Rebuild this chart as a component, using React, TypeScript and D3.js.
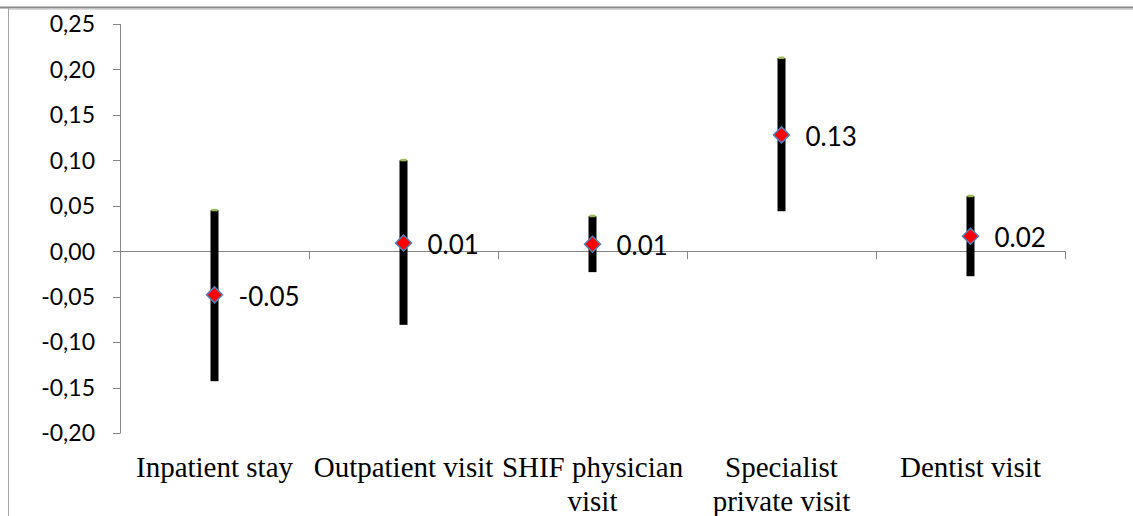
import React from "react";
import * as d3 from "d3";

const categories = [
  "Inpatient stay",
  "Outpatient visit",
  "SHIF physician visit",
  "Specialist private visit",
  "Dentist visit",
];
const highValues = [0.045, 0.1, 0.0385, 0.2125, 0.0605];
const lowValues = [-0.143, -0.081, -0.023, 0.044, -0.0275];
const pointValues = [-0.048, 0.009, 0.0077, 0.128, 0.0165];
const pointLabels = ["-0.05", "0.01", "0.01", "0.13", "0.02"];
const yTicks = [-0.2, -0.15, -0.1, -0.05, 0, 0.05, 0.1, 0.15, 0.2, 0.25];

const W = 1133;
const H = 516;

function wrapLabel(text: string, maxWidth: number, fontSize: number): string[] {
  // approximate Times widths
  const canvas = document.createElement("canvas");
  const ctx = canvas.getContext("2d")!;
  ctx.font = `${fontSize}px "Liberation Serif", "Times New Roman", serif`;
  const words = text.split(" ");
  const lines: string[] = [];
  let cur = "";
  for (const w of words) {
    const test = cur ? cur + " " + w : w;
    if (ctx.measureText(test).width > maxWidth && cur) {
      lines.push(cur);
      cur = w;
    } else {
      cur = test;
    }
  }
  if (cur) lines.push(cur);
  return lines;
}

export default function App() {
  const x = d3.scaleBand<string>().domain(categories).range([120, 1065]).padding(0);
  const y = d3.scaleLinear().domain([-0.2, 0.25]).range([433, 24]);
  const axisColor = "#868686";
  const fmt = (v: number) => d3.format(".2f")(v).replace(".", ",").replace("−", "-");
  const bw = x.bandwidth();
  const boundaries = [...categories.map((c) => x(c)!), 1065];

  return (
    <svg
      width={W}
      height={H}
      style={{ position: "absolute", left: 0, top: 0, background: "#fff" }}
    >
      <rect x={0} y={0} width={W} height={H} fill="#fff" />
      {/* outer frame */}
      <line x1={0} x2={W} y1={7.5} y2={7.5} stroke="#8a8a8a" strokeWidth={2} />
      <line x1={9} x2={W} y1={9.5} y2={9.5} stroke="#d9d9d9" strokeWidth={1} />
      <line x1={8.5} x2={8.5} y1={8} y2={H} stroke="#a6a6a6" strokeWidth={1} />

      {/* y axis */}
      <line x1={120.5} x2={120.5} y1={y(0.25)} y2={y(-0.2)} stroke={axisColor} strokeWidth={1} />
      {yTicks.map((t) => (
        <g key={t}>
          <line x1={113} x2={120.5} y1={Math.round(y(t)) + 0.5} y2={Math.round(y(t)) + 0.5} stroke={axisColor} />
          <text
            x={95}
            y={y(t)}
            dy="0.36em"
            textAnchor="end"
            fontFamily="Lato, 'Open Sans', sans-serif"
            fontSize={23}
            fill="#000"
          >
            {fmt(t)}
          </text>
        </g>
      ))}

      {/* x axis */}
      <line x1={120} x2={1065} y1={Math.round(y(0)) + 0.5} y2={Math.round(y(0)) + 0.5} stroke={axisColor} />
      {boundaries.map((b, i) => (
        <line
          key={i}
          x1={Math.round(b) + 0.5}
          x2={Math.round(b) + 0.5}
          y1={y(0)}
          y2={y(0) + 8}
          stroke={axisColor}
        />
      ))}

      {/* high-low bars */}
      {categories.map((c, i) => {
        const cx = x(c)! + bw / 2;
        const top = y(highValues[i]);
        const bot = y(lowValues[i]);
        const py = y(pointValues[i]);
        const r = 8;
        return (
          <g key={c}>
            <rect x={cx - 4} y={top} width={8} height={bot - top} fill="#000" />
            <rect x={cx - 3} y={top - 1.5} width={6} height={2.5} fill="#9BBB59" />
            <path
              d={`M${cx},${py - r} L${cx + r},${py} L${cx},${py + r} L${cx - r},${py} Z`}
              fill="#FF0000"
              stroke="#4F81BD"
              strokeWidth={1.5}
            />
            <text
              x={cx + 24}
              y={py}
              dy="0.42em"
              fontFamily="Lato, 'Open Sans', sans-serif"
              fontSize={26}
              fill="#000"
            >
              {pointLabels[i]}
            </text>
          </g>
        );
      })}

      {/* category labels */}
      {categories.map((c) => {
        const cx = x(c)! + bw / 2;
        const lines = wrapLabel(c, bw, 29);
        return (
          <text
            key={c}
            x={cx}
            y={477}
            textAnchor="middle"
            fontFamily="'Liberation Serif', 'Times New Roman', serif"
            fontSize={29}
            fill="#000"
          >
            {lines.map((l, j) => (
              <tspan key={j} x={cx} dy={j === 0 ? 0 : 34}>
                {l}
              </tspan>
            ))}
          </text>
        );
      })}
    </svg>
  );
}
